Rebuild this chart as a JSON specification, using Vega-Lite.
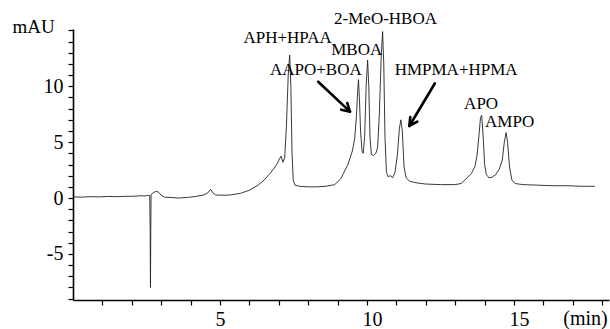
{
  "$schema": "https://vega.github.io/schema/vega-lite/v6.json",
  "width": 536,
  "height": 271,
  "autosize": "none",
  "padding": {"left": 73, "top": 29, "right": 1, "bottom": 29},
  "background": "white",
  "config": {
    "view": {"stroke": null},
    "font": "Liberation Serif, Times New Roman, serif",
    "axis": {
      "grid": false,
      "domainColor": "black",
      "domainWidth": 1.6,
      "tickColor": "black",
      "tickWidth": 1.2,
      "tickSize": 5,
      "labelFont": "Liberation Serif, Times New Roman, serif",
      "labelFontSize": 20,
      "labelColor": "black",
      "titleFont": "Liberation Serif, Times New Roman, serif",
      "titleFontWeight": "normal",
      "titleColor": "black"
    }
  },
  "encoding": {
    "x": {
      "field": "t", "type": "quantitative",
      "scale": {"domain": [0, 18.23], "nice": false, "zero": false},
      "axis": {
        "values": [1,2,3,4,5,6,7,8,9,10,11,12,13,14,15,16,17,18],
        "labelExpr": "datum.value % 5 === 0 ? '' + datum.value : ''",
        "labelFont": "Liberation Serif, Times New Roman, serif",
        "labelAlign": "left", "labelOffset": -5, "labelPadding": 4,
        "labelFlush": false,
        "title": "(min)", "titleFontSize": 20,
        "titleFont": "Liberation Serif, Times New Roman, serif",
        "titleX": 512, "titleY": 24, "titleAlign": "center", "titleBaseline": "alphabetic"
      }
    },
    "y": {
      "field": "v", "type": "quantitative",
      "scale": {"domain": [-9.13, 15.13], "nice": false, "zero": false},
      "axis": {
        "values": [-9,-8,-7,-6,-5,-4,-3,-2,-1,0,1,2,3,4,5,6,7,8,9,10,11,12,13,14,15],
        "labelExpr": "datum.value % 5 === 0 && datum.value !== 15 ? '' + datum.value : ''",
        "labelFont": "Liberation Serif, Times New Roman, serif",
        "labelPadding": 5, "labelFlush": false,
        "title": "mAU", "titleFontSize": 19, "titleAngle": 0,
        "titleFont": "Liberation Serif, Times New Roman, serif",
        "titleX": -40, "titleY": 3, "titleAlign": "center", "titleBaseline": "alphabetic"
      }
    }
  },
  "layer": [
    {
      "data": {"values": [
        {"t": 0.0, "v": 0.10}, {"t": 0.3, "v": 0.08}, {"t": 0.6, "v": 0.12}, {"t": 0.9, "v": 0.10},
        {"t": 1.2, "v": 0.14}, {"t": 1.5, "v": 0.12}, {"t": 1.8, "v": 0.15}, {"t": 2.1, "v": 0.16},
        {"t": 2.3, "v": 0.20}, {"t": 2.45, "v": 0.18}, {"t": 2.55, "v": 0.25}, {"t": 2.61, "v": 0.2},
        {"t": 2.625, "v": -3.0}, {"t": 2.635, "v": -8.0}, {"t": 2.645, "v": -3.0}, {"t": 2.655, "v": 0.3},
        {"t": 2.72, "v": 0.45}, {"t": 2.78, "v": 0.55}, {"t": 2.85, "v": 0.6}, {"t": 2.92, "v": 0.5},
        {"t": 3.0, "v": 0.25}, {"t": 3.1, "v": 0.08}, {"t": 3.3, "v": 0.05}, {"t": 3.6, "v": 0.0},
        {"t": 3.9, "v": 0.05}, {"t": 4.2, "v": 0.15}, {"t": 4.45, "v": 0.27}, {"t": 4.58, "v": 0.45},
        {"t": 4.68, "v": 0.78}, {"t": 4.76, "v": 0.45}, {"t": 4.85, "v": 0.27}, {"t": 5.1, "v": 0.25},
        {"t": 5.35, "v": 0.27}, {"t": 5.7, "v": 0.42}, {"t": 6.0, "v": 0.7}, {"t": 6.3, "v": 1.16},
        {"t": 6.5, "v": 1.6}, {"t": 6.7, "v": 2.2}, {"t": 6.85, "v": 2.7}, {"t": 6.95, "v": 3.1},
        {"t": 7.02, "v": 3.5}, {"t": 7.08, "v": 3.75}, {"t": 7.14, "v": 3.2}, {"t": 7.2, "v": 3.6},
        {"t": 7.26, "v": 6.5}, {"t": 7.32, "v": 11.0}, {"t": 7.37, "v": 12.8}, {"t": 7.41, "v": 10.0},
        {"t": 7.45, "v": 4.0}, {"t": 7.49, "v": 1.6}, {"t": 7.55, "v": 1.15}, {"t": 7.7, "v": 1.05},
        {"t": 8.0, "v": 1.0}, {"t": 8.3, "v": 1.0}, {"t": 8.6, "v": 1.05}, {"t": 8.9, "v": 1.2},
        {"t": 9.1, "v": 1.7}, {"t": 9.2, "v": 2.2}, {"t": 9.35, "v": 3.0}, {"t": 9.5, "v": 4.2},
        {"t": 9.58, "v": 5.3}, {"t": 9.64, "v": 7.3}, {"t": 9.68, "v": 9.5}, {"t": 9.71, "v": 10.6},
        {"t": 9.74, "v": 9.0}, {"t": 9.78, "v": 6.0}, {"t": 9.83, "v": 4.2}, {"t": 9.87, "v": 4.0},
        {"t": 9.92, "v": 5.5}, {"t": 9.97, "v": 10.0}, {"t": 10.02, "v": 12.35}, {"t": 10.06, "v": 10.0},
        {"t": 10.1, "v": 5.5}, {"t": 10.15, "v": 3.9}, {"t": 10.22, "v": 3.8}, {"t": 10.3, "v": 4.0},
        {"t": 10.36, "v": 4.5}, {"t": 10.42, "v": 7.5}, {"t": 10.48, "v": 12.5}, {"t": 10.53, "v": 14.9},
        {"t": 10.57, "v": 12.0}, {"t": 10.61, "v": 5.5}, {"t": 10.66, "v": 2.3}, {"t": 10.72, "v": 1.9},
        {"t": 10.8, "v": 2.0}, {"t": 10.87, "v": 1.8}, {"t": 10.95, "v": 2.3}, {"t": 11.03, "v": 3.8},
        {"t": 11.1, "v": 6.2}, {"t": 11.15, "v": 7.0}, {"t": 11.2, "v": 6.0}, {"t": 11.26, "v": 2.8},
        {"t": 11.33, "v": 1.8}, {"t": 11.45, "v": 1.5}, {"t": 11.7, "v": 1.35}, {"t": 12.0, "v": 1.25},
        {"t": 12.5, "v": 1.2}, {"t": 13.0, "v": 1.2}, {"t": 13.2, "v": 1.3}, {"t": 13.4, "v": 1.8},
        {"t": 13.55, "v": 2.2}, {"t": 13.67, "v": 2.8}, {"t": 13.74, "v": 3.8}, {"t": 13.8, "v": 5.4},
        {"t": 13.86, "v": 7.2}, {"t": 13.9, "v": 7.4}, {"t": 13.95, "v": 5.5}, {"t": 14.0, "v": 3.0},
        {"t": 14.06, "v": 2.1}, {"t": 14.15, "v": 1.8}, {"t": 14.25, "v": 1.85}, {"t": 14.38, "v": 2.1},
        {"t": 14.5, "v": 2.6}, {"t": 14.6, "v": 3.4}, {"t": 14.67, "v": 5.0}, {"t": 14.73, "v": 5.85},
        {"t": 14.78, "v": 5.0}, {"t": 14.85, "v": 2.7}, {"t": 14.93, "v": 1.6}, {"t": 15.03, "v": 1.3},
        {"t": 15.3, "v": 1.2}, {"t": 15.8, "v": 1.15}, {"t": 16.3, "v": 1.1}, {"t": 16.8, "v": 1.1},
        {"t": 17.3, "v": 1.05}, {"t": 17.75, "v": 1.05}
      ]},
      "mark": {"type": "line", "color": "#222222", "strokeWidth": 0.9, "interpolate": "linear"}
    },
    {
      "data": {"values": [
        {"label": "2-MeO-HBOA", "t": 10.63, "v": 15.58},
        {"label": "APH+HPAA", "t": 7.30, "v": 13.88},
        {"label": "MBOA", "t": 9.65, "v": 12.80},
        {"label": "AAPO+BOA", "t": 8.26, "v": 11.01},
        {"label": "HMPMA+HPMA", "t": 13.03, "v": 11.01},
        {"label": "APO", "t": 13.88, "v": 7.97},
        {"label": "AMPO", "t": 14.85, "v": 6.36}
      ]},
      "mark": {"type": "text", "font": "Liberation Serif, Times New Roman, serif", "fontSize": 17, "align": "center", "baseline": "alphabetic", "color": "black"},
      "encoding": {"text": {"field": "label"}}
    },
    {
      "data": {"values": [
        {"t": 8.34, "v": 10.41, "t2": 9.42, "v2": 7.73},
        {"t": 9.42, "v": 7.73, "t2": 9.33, "v2": 8.50},
        {"t": 9.42, "v": 7.73, "t2": 9.12, "v2": 7.91},
        {"t": 12.31, "v": 10.27, "t2": 11.44, "v2": 6.45},
        {"t": 11.44, "v": 6.45, "t2": 11.71, "v2": 6.84},
        {"t": 11.44, "v": 6.45, "t2": 11.47, "v2": 7.25}
      ]},
      "mark": {"type": "rule", "color": "black", "strokeWidth": 2.6, "strokeCap": "round"},
      "encoding": {"x2": {"field": "t2"}, "y2": {"field": "v2"}}
    }
  ]
}
